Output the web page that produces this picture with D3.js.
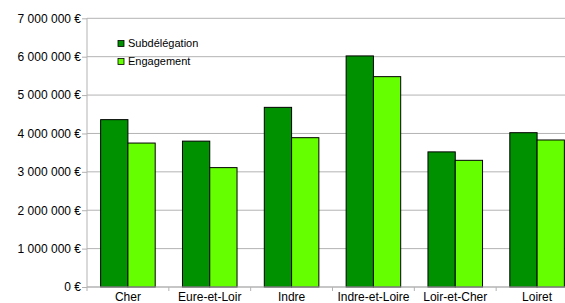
<!DOCTYPE html>
<html>
<head>
<meta charset="utf-8">
<script src="https://cdn.jsdelivr.net/npm/d3@7"></script>
<style>
body { margin: 0; background: #fff; }
text { font-family: "Liberation Sans", Arial, sans-serif; }
</style>
</head>
<body>
<svg width="565" height="303"></svg>
<script>
const categories = ["Cher", "Eure-et-Loir", "Indre", "Indre-et-Loire", "Loir-et-Cher", "Loiret"];
const series = ["Subdélégation", "Engagement"];
const subdelegation = [4360000, 3800000, 4680000, 6020000, 3520000, 4020000];
const engagement = [3750000, 3110000, 3890000, 5480000, 3300000, 3830000];
const yTicks = [0, 1000000, 2000000, 3000000, 4000000, 5000000, 6000000, 7000000];
const colors = ["#009100", "#66ff00"];

const svg = d3.select("svg");
const plotLeft = 87, plotRight = 578, plotTop = 18.3, plotBottom = 287;

const y = d3.scaleLinear().domain([0, 7000000]).range([plotBottom, plotTop]);
const x = d3.scaleBand().domain(categories).range([plotLeft, plotRight]).paddingInner(1/3).paddingOuter(1/6);
const x1 = d3.scaleBand().domain(series).range([0, x.bandwidth()]);
const step = x.step();

const fmt = v => d3.format(",")(v).replace(/,/g, " ") + " €";

// grid + y axis
const yAxis = svg.append("g").attr("transform", `translate(${plotLeft},0)`)
  .call(d3.axisLeft(y).tickValues(yTicks).tickSize(5).tickFormat(fmt));
yAxis.select(".domain").remove();
yAxis.selectAll(".tick line").attr("stroke", "#b3b3b3");
yAxis.selectAll(".tick text").attr("font-size", 12).attr("fill", "#000").attr("x", -6);

svg.append("g").selectAll("line").data(yTicks).join("line")
  .attr("x1", plotLeft).attr("x2", plotRight)
  .attr("y1", d => y(d)).attr("y2", d => y(d))
  .attr("stroke", "#b3b3b3");

svg.append("line").attr("x1", plotLeft).attr("x2", plotLeft).attr("y1", plotTop).attr("y2", plotBottom)
  .attr("stroke", "#b3b3b3");

// bars
const data = categories.map((c, i) => ({cat: c, vals: [subdelegation[i], engagement[i]]}));
svg.append("g").selectAll("g").data(data).join("g")
  .attr("transform", d => `translate(${x(d.cat)},0)`)
  .selectAll("rect").data(d => d.vals.map((v, j) => ({s: series[j], v, j}))).join("rect")
  .attr("x", d => x1(d.s)).attr("width", x1.bandwidth())
  .attr("y", d => y(d.v)).attr("height", d => plotBottom - y(d.v))
  .attr("fill", d => colors[d.j]).attr("stroke", "#000").attr("stroke-width", 1);

// x axis
svg.append("line").attr("x1", plotLeft).attr("x2", plotRight).attr("y1", plotBottom).attr("y2", plotBottom)
  .attr("stroke", "#b3b3b3");
svg.append("g").selectAll("line").data(d3.range(categories.length + 1)).join("line")
  .attr("x1", i => plotLeft + i * step).attr("x2", i => plotLeft + i * step)
  .attr("y1", plotBottom).attr("y2", plotBottom + 4)
  .attr("stroke", "#b3b3b3");
svg.append("g").selectAll("text").data(categories).join("text")
  .attr("x", d => x(d) + x.bandwidth() / 2).attr("y", 301)
  .attr("text-anchor", "middle").attr("font-size", 12).attr("fill", "#000")
  .text(d => d);

// legend
const lg = svg.append("g").attr("transform", "translate(118,40.5)");
series.forEach((s, i) => {
  lg.append("rect").attr("x", 0).attr("y", i * 18).attr("width", 6).attr("height", 6)
    .attr("fill", colors[i]).attr("stroke", "#000").attr("stroke-width", 0.8);
  lg.append("text").attr("x", 10).attr("y", i * 18 + 6.8).attr("font-size", 11)
    .attr("fill", "#000").text(s);
});
</script>
</body>
</html>
